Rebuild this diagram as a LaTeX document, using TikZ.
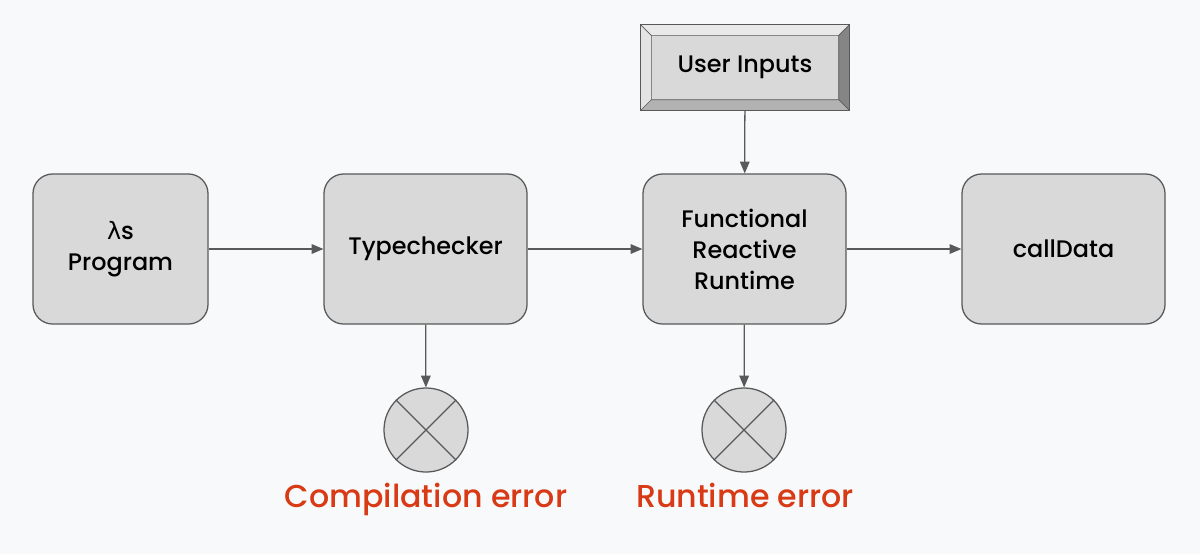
\documentclass[tikz,border=0pt]{standalone}
\usepackage{fontspec}
\setmainfont{Poppins}[UprightFont=* Medium]
\newfontfamily\lambdafont{DejaVu Sans}
\usetikzlibrary{arrows,calc,shapes.geometric}
\definecolor{bggray}{HTML}{F8F9FA}
\definecolor{boxgray}{HTML}{D9D9D9}
\definecolor{linegray}{HTML}{595959}
\definecolor{errred}{HTML}{D83A16}
\definecolor{bevtop}{HTML}{E9E9E9}
\definecolor{bevleft}{HTML}{E4E4E4}
\definecolor{bevright}{HTML}{858585}
\definecolor{bevbottom}{HTML}{B2B2B2}

\begin{document}
\begin{tikzpicture}[x=0.025cm,y=-0.025cm,line width=0.9pt,-triangle 45]

  \tikzstyle{procnode}=[draw=linegray,fill=boxgray,shape=rectangle,rounded corners=14pt,minimum width=5.075cm,minimum height=3.75cm,align=center,font=\fontsize{17}{22}\selectfont]
  \tikzstyle{inputnode}=[draw=linegray,fill=boxgray,shape=rectangle,minimum width=5.2cm,minimum height=2.125cm]
  \tikzstyle{errnode}=[draw=linegray,fill=boxgray,shape=circle,minimum size=2.1cm,inner sep=0pt]
  \tikzstyle{errtext}=[text=errred,anchor=base,font=\fontsize{22.5}{27}\selectfont]

  \useasboundingbox[-,fill=bggray] (0,0) rectangle (1200,554);

  \node[procnode,minimum width=4.375cm] (prog) at (120.5,249) {{\lambdafont λ}s\\Program};
  \node[procnode]  (tc)  at (425.5,249)  {Typechecker};
  \node[procnode]  (frr) at (744.5,249)  {Functional\\Reactive\\Runtime};
  \node[procnode]  (cd)  at (1063.5,249) {callData};
  \node[inputnode] (ui)  at (745,67.5)   {};
  \node[errnode]   (c1)  at (426,430)    {};
  \node[errnode]   (c2)  at (744,430)    {};
  \node[errtext]   (e1)  at (426,507)    {Compilation error};
  \node[errtext]   (e2)  at (745,507)    {Runtime error};

  % bevel of the input box
  \fill[-,bevtop]    (ui.north west) -- (ui.north east) -- ($(ui.north east)+(-11,11)$) -- ($(ui.north west)+(11,11)$) -- cycle;
  \fill[-,bevleft]   (ui.north west) -- ($(ui.north west)+(11,11)$) -- ($(ui.south west)+(11,-11)$) -- (ui.south west) -- cycle;
  \fill[-,bevright]  (ui.north east) -- (ui.south east) -- ($(ui.south east)+(-11,-11)$) -- ($(ui.north east)+(-11,11)$) -- cycle;
  \fill[-,bevbottom] (ui.south west) -- ($(ui.south west)+(11,-11)$) -- ($(ui.south east)+(-11,-11)$) -- (ui.south east) -- cycle;
  \draw[-,linegray] (ui.north west) rectangle (ui.south east);
  \draw[-,linegray,line width=0.5pt] ($(ui.north west)+(11,11)$) rectangle ($(ui.south east)+(-11,-11)$)
                                     (ui.north west) -- ($(ui.north west)+(11,11)$)
                                     (ui.north east) -- ($(ui.north east)+(-11,11)$)
                                     (ui.south west) -- ($(ui.south west)+(11,-11)$)
                                     (ui.south east) -- ($(ui.south east)+(-11,-11)$);
  \node[font=\fontsize{17}{22}\selectfont] (uitext) at (ui) {User Inputs};

  % crosses
  \draw[-,linegray] (c1.45) -- (c1.225) (c1.135) -- (c1.315);
  \draw[-,linegray] (c2.45) -- (c2.225) (c2.135) -- (c2.315);

  \draw[linegray] (prog) -- (tc);
  \draw[linegray] (tc)   -- (frr);
  \draw[linegray] (frr)  -- (cd);
  \draw[linegray] (ui)   -- (frr);
  \draw[linegray] (tc)   -- (c1);
  \draw[linegray] (frr)  -- (c2);

\end{tikzpicture}
\end{document}
